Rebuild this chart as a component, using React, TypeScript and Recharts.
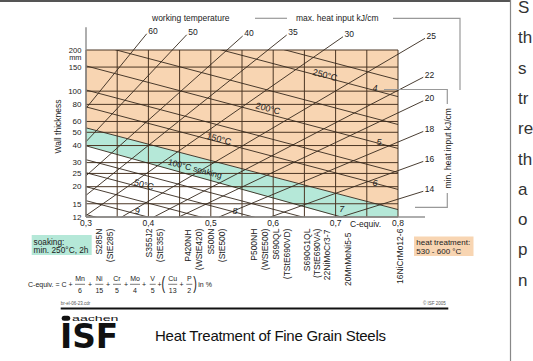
import React from 'react'
import { Area, ComposedChart, ReferenceDot, ReferenceLine, XAxis, YAxis } from 'recharts'

const FONT = '"Liberation Sans", Arial, Helvetica, sans-serif'
const INK = '#222'
const GRID = '#4b3624'
const DIAG = '#35281c'
const AXIS = '#8c8c8c'
const HEAT = '#f8d5b2'
const SOAK = '#b5e8d8'

// axes
const cTicks = [0.3, 0.4, 0.5, 0.6, 0.7, 0.8]
const cGrid = [0.3, 0.35, 0.4, 0.45, 0.5, 0.55, 0.6, 0.65, 0.7, 0.75, 0.8]
const tTicks = [12, 15, 20, 25, 30, 40, 50, 60, 80, 100, 150, 200]

// zone boundaries (C-equiv. -> wall thickness in mm)
const zoneC = [0.3, 0.707, 0.8]
const zoneTop = [200, 200, 200]
const soakUpper = [53.9, 17.5, 13.6]
const soakLower = [39.8, 12, 12]

// working temperature lines: thickness where each crosses C = 0.3 and C = 0.8
const tempAtLow = [487, 366, 229, 153, 102, 76.7, 53.9, 39.8, 31.5, 25.3, 20, 15.8, 12.5]
const tempAtHigh = [121, 91.2, 57, 38.1, 25.4, 19.1, 13.6, 9.2, 7.84, 6.3, 4.98, 3.94, 3.11]
const tempNames = ['250°C', '200°C', '150°C', '100°C soaking', '50°C']
const tempNameC = [0.683, 0.5917, 0.5131, 0.4747, 0.3929]
const tempNameT = [131.4, 74.8, 44.8, 27.1, 20.7]

// heat input lines (kJ/cm): entry into the field and end of the label leader
const heatNames = ['60', '50', '40', '35', '30', '25', '22', '20', '18', '16', '14']
const heatFromC = [0.3, 0.3, 0.3, 0.3, 0.3, 0.3572, 0.4088, 0.4489, 0.5133, 0.5958, 0.7083]
const heatFromT = [74.9, 42.7, 24.0, 17.3, 12.3, 12, 12, 12, 12, 12, 12]
const heatToC = [0.3973, 0.4614, 0.5511, 0.6216, 0.7119, 0.8433, 0.8405, 0.8405, 0.8405, 0.8405, 0.8405]
const heatToT = [263, 258.6, 253.1, 257.3, 250.1, 243.5, 126.4, 84.9, 50.7, 30.6, 18.5]

// italic line numbers
const numNames = ['4', '5', '6', '7', '8', '9']
const numC = [0.7631, 0.7696, 0.7631, 0.7098, 0.5388, 0.3822]
const numT = [105.6, 42.6, 21.4, 13.75, 13.4, 13.4]

// steel grades under the C-equiv. axis
const steelNames = [
  'S285N', '(StE285)', 'S355J2', '(StE355)', 'P420NH', '(WStE420)', 'S500N', '(StE500)',
  'P500NH', '(WStE500)', 'S690QL', '(TStE690VD)', 'S690G1QL', '(TStE690VA)', '22NiMoCr3-7',
  '20MnMoNi5-5', '16NiCrMo12-6',
]
const steelC = [
  0.3208, 0.3385, 0.401, 0.4186, 0.4635, 0.4811, 0.5003, 0.5179,
  0.5692, 0.5869, 0.6045, 0.6221, 0.6542, 0.6702, 0.6862, 0.7199, 0.8032,
]
const steelT = [9.87, 9.87, 9.87, 9.87, 9.7, 9.87, 9.87, 9.87, 9.87, 9.87, 9.87, 9.87, 9.87, 9.87, 9.7, 9.23, 9.87]

const sideWords = ['S', 'th', 's', 'tr', 're', 'th', 'a', 'o', 'p', 'n']

const zoneData = zoneC.map((c, i) => ({
  c,
  heat: [soakUpper[i], zoneTop[i]],
  soak: [soakLower[i], soakUpper[i]],
}))

type TagOpts = { dx?: number; dy?: number; angle?: number; anchor?: string; size?: number; italic?: boolean }

function tag(key: string, c: number, t: number, text: string, o: TagOpts = {}) {
  return (
    <ReferenceDot
      key={key}
      x={c}
      y={t}
      r={0}
      fill="none"
      stroke="none"
      ifOverflow="visible"
      label={(p: any) => {
        const vb = p.viewBox || {}
        const x = (vb.x || 0) + (vb.width || 0) / 2 + (o.dx || 0)
        const y = (vb.y || 0) + (vb.height || 0) / 2 + (o.dy || 0)
        return (
          <text
            x={x}
            y={y}
            dy="0.35em"
            textAnchor={o.anchor || 'middle'}
            fontSize={o.size || 8.5}
            fontStyle={o.italic ? 'italic' : 'normal'}
            fontFamily={FONT}
            fill={INK}
            transform={o.angle ? `rotate(${o.angle} ${x} ${y})` : undefined}
          >
            {text}
          </text>
        )
      }}
    />
  )
}

function YTick(p: any) {
  const v = p.payload.value
  return (
    <g>
      <text x={p.x} y={p.y} dy="0.35em" textAnchor="end" fontSize={v >= 150 ? 7.6 : 8} fontFamily={FONT} fill={INK}>
        {v}
      </text>
      {v === 200 && (
        <text x={p.x} y={p.y + 8} dy="0.3em" textAnchor="end" fontSize={7.4} fontFamily={FONT} fill={INK}>
          mm
        </text>
      )}
    </g>
  )
}

function XTick(p: any) {
  const v = Number(p.payload.value)
  return (
    <text x={p.x} y={p.y} dy="0.71em" textAnchor="middle" fontSize={8.5} fontFamily={FONT} fill={INK}>
      {v.toFixed(1).replace('.', ',')}
    </text>
  )
}

const fracs = [
  { n: 'Mn', d: '6', x: 80, w: 10 },
  { n: 'Ni', d: '15', x: 99.3, w: 8 },
  { n: 'Cr', d: '5', x: 117, w: 8 },
  { n: 'Mo', d: '4', x: 135, w: 10 },
  { n: 'V', d: '5', x: 152.7, w: 6 },
  { n: 'Cu', d: '13', x: 172.7, w: 9 },
  { n: 'P', d: '2', x: 189.3, w: 6 },
]
const plusX = [90, 108, 126, 144, 159.5, 181.5]

function Overlay() {
  const t = { fontFamily: FONT, fill: INK }
  return (
    <svg width={533} height={361} style={{ position: 'absolute', left: 0, top: 0, pointerEvents: 'none' }}>
      <line x1={0} y1={1} x2={510} y2={1} stroke="#555" strokeWidth={2} />
      <line x1={510.5} y1={0} x2={510.5} y2={361} stroke="#888" strokeWidth={1.2} />

      <text x={152} y={21.3} fontSize={8.5} {...t}>working temperature</text>
      <line x1={255} y1={18.3} x2={287} y2={18.3} stroke="#999" strokeWidth={1.2} />
      <text x={296} y={21.3} fontSize={8.5} {...t}>max. heat input  kJ/cm</text>
      <polyline points="393,18.3 460,18.3 460,90" fill="none" stroke="#999" strokeWidth={1.2} />
      <polyline points="384,89.5 447.3,89.5 447.3,104" fill="none" stroke="#999" strokeWidth={1.2} />
      <polyline points="447.3,193 447.3,207.3 415,207.3" fill="none" stroke="#999" strokeWidth={1.2} />
      <text x={448.3} y={148.3} dy="0.35em" textAnchor="middle" fontSize={8.5} transform="rotate(-90 448.3 148.3)" {...t}>
        min. heat input  kJ/cm
      </text>
      <text x={58.3} y={126.5} dy="0.35em" textAnchor="middle" fontSize={8.5} transform="rotate(-90 58.3 126.5)" {...t}>
        Wall thickness
      </text>
      <text x={350} y={226.5} fontSize={8.5} {...t}>C-equiv.</text>

      <rect x={31.7} y={235} width={60} height={20} fill={SOAK} />
      <text x={33.5} y={244.5} fontSize={8.3} {...t}>soaking:</text>
      <text x={33.5} y={253.3} fontSize={8.3} {...t}>min. 250°C, 2h</text>
      <rect x={414} y={236.5} width={59.5} height={19.5} fill={HEAT} />
      <text x={416.3} y={245.3} fontSize={8} {...t}>heat treatment:</text>
      <text x={416.3} y={254} fontSize={8} {...t}>530 - 600 °C</text>

      <text x={28} y={286.5} fontSize={7} {...t}>C-equiv. = C +</text>
      {fracs.map((f) => (
        <g key={f.n}>
          <text x={f.x} y={281} textAnchor="middle" fontSize={7} {...t}>{f.n}</text>
          <line x1={f.x - f.w / 2} y1={284.3} x2={f.x + f.w / 2} y2={284.3} stroke={INK} strokeWidth={0.6} />
          <text x={f.x} y={292.5} textAnchor="middle" fontSize={7} {...t}>{f.d}</text>
        </g>
      ))}
      {plusX.map((x) => (
        <text key={x} x={x} y={286.7} textAnchor="middle" fontSize={7} {...t}>+</text>
      ))}
      <g transform="translate(163.3 289) scale(0.6 1)">
        <text x={0} y={0} textAnchor="middle" fontSize={18} {...t}>(</text>
      </g>
      <g transform="translate(195 289) scale(0.6 1)">
        <text x={0} y={0} textAnchor="middle" fontSize={18} {...t}>)</text>
      </g>
      <text x={198.3} y={286.7} fontSize={7} {...t}>in %</text>

      <text x={60.7} y={304.5} fontSize={4.5} fontFamily={FONT} fill="#555">br-el-06-23.cdr</text>
      <text x={423} y={304.5} fontSize={4.5} fontFamily={FONT} fill="#555">© ISF 2005</text>
      <line x1={60.7} y1={308.5} x2={448.3} y2={308.5} stroke="#111" strokeWidth={2.2} />

      <rect x={61.7} y={315.8} width={8.5} height={5} rx={2.5} fill="#111" />
      <text x={72} y={321} fontSize={8} textLength={46.5} lengthAdjust="spacingAndGlyphs" fontFamily={FONT} fill="#111">
        aachen
      </text>
      <text
        x={60}
        y={348.3}
        fontSize={33}
        fontWeight={900}
        textLength={58.3}
        lengthAdjust="spacingAndGlyphs"
        fontFamily='"DejaVu Sans", Arial, sans-serif'
        fill="#111"
      >
        ISF
      </text>
      <text x={155} y={340.5} fontSize={15} textLength={231} fontFamily={FONT} fill="#111">
        Heat Treatment of Fine Grain Steels
      </text>

      {sideWords.map((w, i) => (
        <text key={i} x={518} y={13 + i * 30.3} fontSize={17} fontFamily={FONT} fill="#333">
          {w}
        </text>
      ))}
    </svg>
  )
}

export default function App() {
  return (
    <div style={{ position: 'absolute', left: 0, top: 0, width: 533, height: 361, background: '#fff' }}>
      <ComposedChart width={533} height={361} data={zoneData} margin={{ top: 50, right: 135, bottom: 124, left: 46 }}>
        <XAxis
          dataKey="c"
          type="number"
          domain={[0.3, 0.8]}
          allowDataOverflow
          ticks={cTicks}
          interval={0}
          height={20}
          tickSize={0}
          tickMargin={3}
          tickLine={false}
          axisLine={{ stroke: AXIS, strokeWidth: 1.4 }}
          tick={XTick}
        />
        <YAxis
          type="number"
          scale="log"
          domain={[12, 200]}
          allowDataOverflow
          ticks={tTicks}
          interval={0}
          width={40}
          tickSize={0}
          tickMargin={4.5}
          tickLine={false}
          axisLine={{ stroke: AXIS, strokeWidth: 1.4 }}
          tick={YTick}
        />
        <Area dataKey="heat" type="linear" fill={HEAT} fillOpacity={1} stroke="none" isAnimationActive={false} />
        <Area dataKey="soak" type="linear" fill={SOAK} fillOpacity={1} stroke="none" isAnimationActive={false} />

        {cGrid.map((c) => (
          <ReferenceLine key={'gx' + c} x={c} stroke={GRID} strokeWidth={1} ifOverflow="visible" />
        ))}
        {tTicks.map((v) => (
          <ReferenceLine key={'gy' + v} y={v} stroke={GRID} strokeWidth={1} ifOverflow="visible" />
        ))}

        <ReferenceLine segment={[{ x: 0.3, y: 200 }, { x: 0.3, y: 294 }]} stroke={AXIS} strokeWidth={1.4} ifOverflow="visible" />
        <ReferenceLine segment={[{ x: 0.8, y: 12 }, { x: 0.8433, y: 12 }]} stroke={AXIS} strokeWidth={1.4} ifOverflow="visible" />

        {tempAtLow.map((lo, i) => (
          <ReferenceLine
            key={'tl' + i}
            segment={[{ x: 0.3, y: lo }, { x: 0.8, y: tempAtHigh[i] }]}
            stroke={DIAG}
            strokeWidth={0.9}
            ifOverflow="hidden"
          />
        ))}
        {heatNames.map((h, i) => (
          <ReferenceLine
            key={'hl' + h}
            segment={[{ x: heatFromC[i], y: heatFromT[i] }, { x: heatToC[i], y: heatToT[i] }]}
            stroke={DIAG}
            strokeWidth={0.9}
            ifOverflow="visible"
          />
        ))}

        {heatNames.map((h, i) => tag('hn' + h, heatToC[i], heatToT[i], h, { dx: 1.5, dy: -2.6, anchor: 'start' }))}
        {tempNames.map((n, i) => tag('tn' + i, tempNameC[i], tempNameT[i], n, { angle: 14.8, size: n.length > 6 ? 8.5 : 9 }))}
        {numNames.map((n, i) => tag('nn' + n, numC[i], numT[i], n, { italic: true, size: 9 }))}
        {steelNames.map((s, i) => tag('st' + i, steelC[i], steelT[i], s, { angle: -90, anchor: 'end' }))}
      </ComposedChart>
      <Overlay />
    </div>
  )
}
